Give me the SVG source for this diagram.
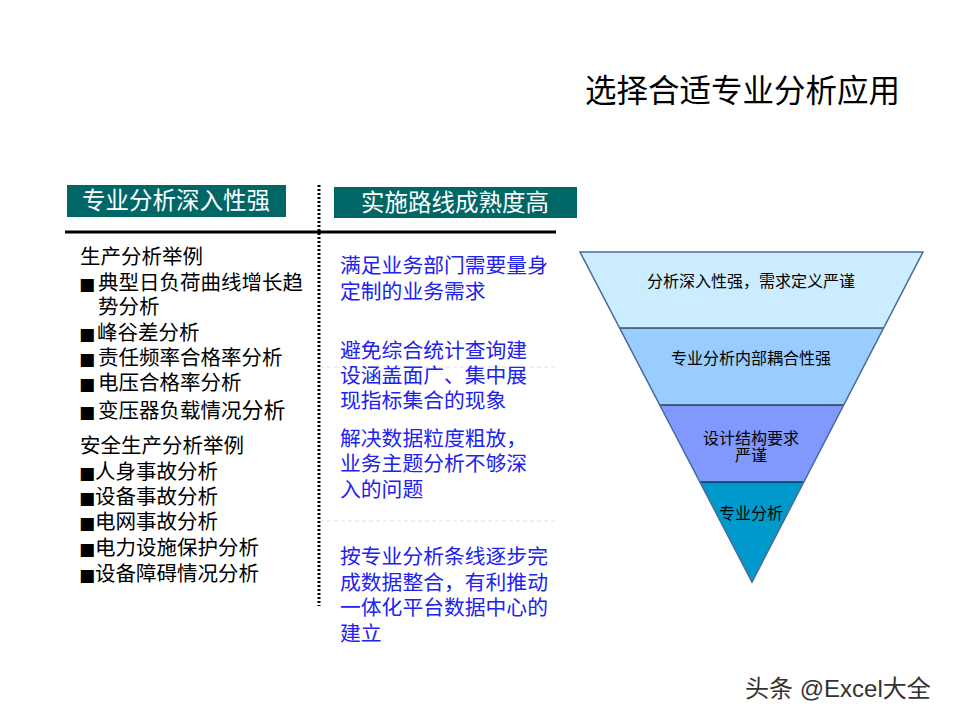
<svg xmlns="http://www.w3.org/2000/svg" width="960" height="720" viewBox="0 0 960 720">
<style>
text{font-family:"Liberation Sans","Noto Sans CJK SC",sans-serif;}
.hdr{fill:#006666;}
.ht{fill:#fff;font-size:23.5px;}
.lt{fill:#000;font-size:20.5px;}
.sq{font-family:"DejaVu Sans",sans-serif;font-size:17px;}
.bt{fill:#2222ee;font-size:20.8px;}
.tt{fill:#000;font-size:16px;text-anchor:middle;}
</style>
<rect width="960" height="720" fill="#fff"/>
<text x="585" y="102" font-size="31.5" fill="#000">选择合适专业分析应用</text>

<g id="header-left">
<rect class="hdr" x="67" y="185" width="219" height="32"/>
<text class="ht" x="176" y="209" text-anchor="middle">专业分析深入性强</text>
</g>
<g id="header-right">
<rect class="hdr" x="334" y="187" width="243" height="31"/>
<text class="ht" x="455" y="211" text-anchor="middle">实施路线成熟度高</text>
</g>

<g id="connectors">
<line x1="319" y1="185" x2="319" y2="606" stroke="#000" stroke-width="3" stroke-dasharray="2,2"/>
<line x1="65" y1="232" x2="556" y2="232" stroke="#000" stroke-width="3"/>
<line x1="320" y1="367" x2="556" y2="367" stroke="#e0e0d0" stroke-width="1" stroke-dasharray="4,3"/>
<line x1="320" y1="521" x2="556" y2="521" stroke="#e0e0d0" stroke-width="1" stroke-dasharray="4,3"/>
</g>

<g id="left-list">
<text class="lt" x="80" y="264">生产分析举例</text>
<text class="lt" y="290"><tspan class="sq" x="79">■</tspan><tspan x="98">典型日负荷曲线增长趋</tspan></text>
<text class="lt" x="98" y="314">势分析</text>
<text class="lt" y="340"><tspan class="sq" x="79">■</tspan><tspan x="97">峰谷差分析</tspan></text>
<text class="lt" y="365"><tspan class="sq" x="79">■</tspan><tspan x="98">责任频率合格率分析</tspan></text>
<text class="lt" y="390"><tspan class="sq" x="79">■</tspan><tspan x="98">电压合格率分析</tspan></text>
<text class="lt" y="418"><tspan class="sq" x="79">■</tspan><tspan x="98">变压器负载情况</tspan><tspan font-size="22">分析</tspan></text>
<text class="lt" x="80" y="453">安全生产分析举例</text>
<text class="lt" y="479"><tspan class="sq" x="79">■</tspan><tspan x="95">人身事故分析</tspan></text>
<text class="lt" y="504"><tspan class="sq" x="79">■</tspan><tspan x="95">设备事故分析</tspan></text>
<text class="lt" y="529"><tspan class="sq" x="79">■</tspan><tspan x="95">电网事故分析</tspan></text>
<text class="lt" y="555"><tspan class="sq" x="79">■</tspan><tspan x="95">电力设施保护分析</tspan></text>
<text class="lt" y="581"><tspan class="sq" x="79">■</tspan><tspan x="95">设备障碍情况分析</tspan></text>
</g>

<g id="right-list">
<text class="bt" x="340" y="273">满足业务部门需要量身</text>
<text class="bt" x="340" y="299">定制的业务需求</text>
<text class="bt" x="340" y="358">避免综合统计查询建</text>
<text class="bt" x="340" y="383">设涵盖面广、集中展</text>
<text class="bt" x="340" y="408">现指标集合的现象</text>
<text class="bt" x="340" y="446">解决数据粒度粗放，</text>
<text class="bt" x="340" y="471">业务主题分析不够深</text>
<text class="bt" x="340" y="497">入的问题</text>
<text class="bt" x="340" y="564">按专业分析条线逐步完</text>
<text class="bt" x="340" y="590">成数据整合，有利推动</text>
<text class="bt" x="340" y="615">一体化平台数据中心的</text>
<text class="bt" x="340" y="641">建立</text>
</g>

<g id="funnel">
<g id="band1">
<polygon points="580,252 923,252 883.6,328 619.6,328" fill="#CCECFF"/>
<text class="tt" x="751" y="287">分析深入性强，需求定义严谨</text>
</g>
<g id="band2">
<polygon points="619.6,328 883.6,328 843.7,405 659.7,405" fill="#99CCFF"/>
<text class="tt" x="751" y="364">专业分析内部耦合性强</text>
</g>
<g id="band3">
<polygon points="659.7,405 843.7,405 803.8,482 699.9,482" fill="#8099FF"/>
<text class="tt" x="751" y="444">设计结构要求</text>
<text class="tt" x="751" y="461">严谨</text>
</g>
<g id="band4">
<polygon points="699.9,482 803.8,482 752,582" fill="#0099CC"/>
<text class="tt" x="751" y="519">专业分析</text>
</g>
<line x1="619.6" y1="328" x2="883.6" y2="328" stroke="#000"/>
<line x1="659.7" y1="405" x2="843.7" y2="405" stroke="#000"/>
<line x1="699.9" y1="482" x2="803.8" y2="482" stroke="#000"/>
<polygon points="580,252 923,252 752,582" fill="none" stroke="#4a6a9a" stroke-width="1.5"/>
</g>

<text x="745" y="697" font-size="24" fill="#333">头条 @Excel大全</text>
</svg>
